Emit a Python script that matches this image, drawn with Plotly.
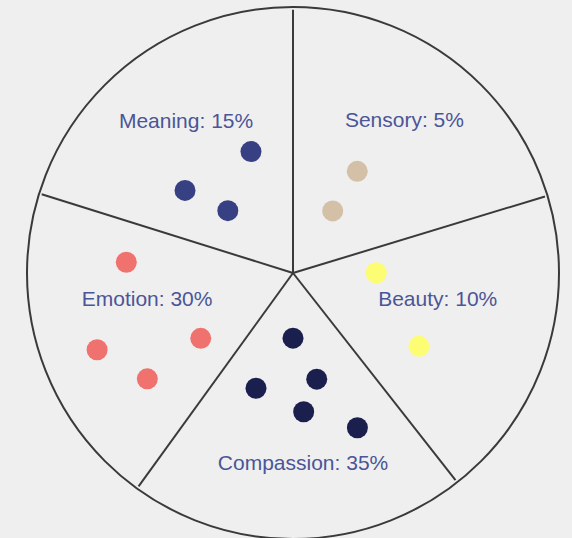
import plotly.graph_objects as go

# ---- data ----
categories = ["Sensory", "Beauty", "Compassion", "Emotion", "Meaning"]
percentages = [5, 10, 35, 30, 15]
# sector boundary angles (degrees clockwise from top)
boundary_theta = [0.0, 73.1, 141.9, 215.9, 287.4]

# dot positions (radius as fraction of circle, angle in degrees clockwise from top)
sensory_r = [0.452, 0.277]
sensory_theta = [32.3, 32.6]
beauty_r = [0.313, 0.548]
beauty_theta = [89.8, 120.2]
compassion_r = [0.245, 0.409, 0.455, 0.523, 0.630]
compassion_theta = [180.0, 167.4, 197.8, 175.6, 157.4]
emotion_r = [0.628, 0.425, 0.791, 0.677]
emotion_theta = [273.7, 234.7, 248.6, 234.0]
meaning_r = [0.483, 0.511, 0.339]
meaning_theta = [340.9, 307.4, 313.7]

label_r = [0.706, 0.554, 0.722, 0.558, 0.694]
label_theta = [36.4, 100.9, 177.0, 259.4, 324.6]

# ---- styles ----
dot_colors = ["#d3c0a7", "#fdfd73", "#1b1f4e", "#ef726f", "#374083"]
text_color = "#4b5597"
line_color = "#3a3a3a"
bg = "#efefef"

dots = [
    (sensory_r, sensory_theta),
    (beauty_r, beauty_theta),
    (compassion_r, compassion_theta),
    (emotion_r, emotion_theta),
    (meaning_r, meaning_theta),
]

fig = go.Figure()

# sector dividers
for ang in boundary_theta:
    fig.add_trace(go.Scatterpolar(
        r=[0, 0.99], theta=[ang, ang], mode="lines",
        line=dict(color=line_color, width=2), hoverinfo="skip", showlegend=False,
    ))

for (rr, tt), col, name in zip(dots, dot_colors, categories):
    fig.add_trace(go.Scatterpolar(
        r=rr, theta=tt, mode="markers", name=name,
        marker=dict(size=21, color=col, line=dict(width=0)),
        showlegend=False,
    ))

fig.add_trace(go.Scatterpolar(
    r=label_r, theta=label_theta, mode="text",
    text=[f"{c}: {p}%" for c, p in zip(categories, percentages)],
    textposition="middle center",
    textfont=dict(family="Liberation Sans, Arial, sans-serif", size=21, color=text_color),
    hoverinfo="skip", showlegend=False,
))

fig.update_layout(
    width=572, height=540,
    margin=dict(l=0, r=0, t=0, b=0),
    paper_bgcolor=bg, plot_bgcolor=bg,
    polar=dict(
        domain=dict(x=[27 / 572, 559 / 572], y=[1 / 540, 533 / 540]),
        bgcolor=bg,
        radialaxis=dict(range=[0, 1], visible=False),
        angularaxis=dict(
            rotation=90, direction="clockwise",
            showgrid=False, showticklabels=False, ticks="",
            showline=True, linecolor=line_color, linewidth=2,
        ),
    ),
)

fig.write_html(
    "out.html",
    config={"displayModeBar": False},
    post_script=(
        "document.body.style.margin='0';"
        "document.body.style.background='#efefef';"
        "document.body.style.overflow='hidden';"
        "document.documentElement.style.overflow='hidden';"
    ),
)
